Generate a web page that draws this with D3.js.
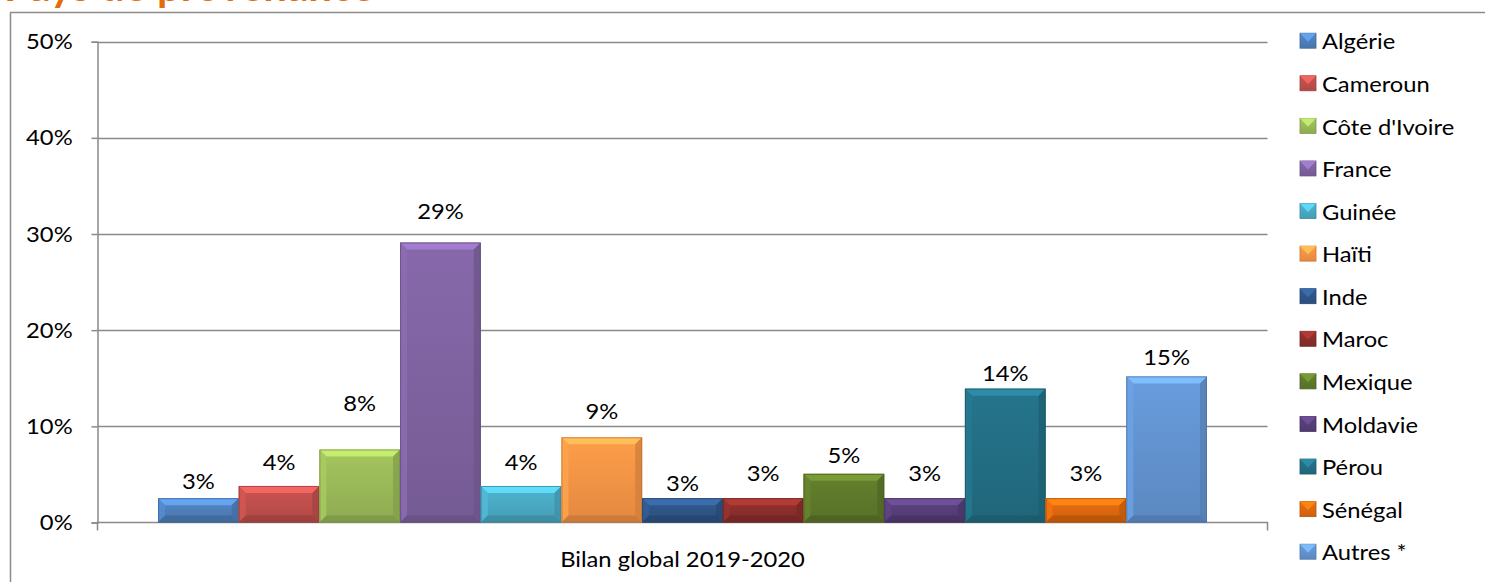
<!DOCTYPE html>
<html>
<head>
<meta charset="utf-8">
<script src="https://cdn.jsdelivr.net/npm/d3@7"></script>
<style>
  html, body { margin: 0; padding: 0; background: #fff; }
  svg { display: block; }
  text { font-family: "Lato", "Liberation Sans", sans-serif; fill: #000; }
</style>
</head>
<body>
<svg id="chart" width="1485" height="582"></svg>
<script>
// ---- Data ----
const title = "Pays de provenance";
const categories = ["Bilan global 2019-2020"];
const countries = ["Algérie", "Cameroun", "Côte d'Ivoire", "France", "Guinée", "Haïti",
                   "Inde", "Maroc", "Mexique", "Moldavie", "Pérou", "Sénégal", "Autres *"];
const values = [2.53, 3.80, 7.59, 29.11, 3.80, 8.86, 2.53, 2.53, 5.06, 2.53, 13.92, 2.53, 15.19]; // percent
const yTicks = [0, 10, 20, 30, 40, 50];
const colors = ["#4F81BD", "#C0504D", "#9BBB59", "#8064A2", "#4BACC6", "#F79646",
                "#2F5689", "#8C2F2C", "#5F7A2B", "#573F78", "#236F85", "#E0690E", "#6495D2"];
// manual label lifts above each bar top (px), as placed in the original
const labelLift = [18, 25, 47, 32, 25, 27, 16, 26, 19, 26, 16, 26, 20];

// ---- Layout ----
const FS = 22, SX = 1.08;        // font size and horizontal stretch of all texts
const svg = d3.select("#chart");
const defs = svg.append("defs");
const plot = { left: 97.5, right: 1267.5, top: 41.7, bottom: 522.5 };

// chart border (only top/left visible in the crop)
svg.append("path")
  .attr("d", `M10.5,600 L10.5,12.5 L1500,12.5`)
  .attr("fill", "none").attr("stroke", "#8c8c8c").attr("stroke-width", 1.5);

// title, cut off by the top edge
svg.append("text")
  .attr("x", 4).attr("y", 0.5)
  .attr("font-size", 42).attr("font-weight", "bold")
  .style("fill", "#E46C0A")
  .text(title);

const y = d3.scaleLinear().domain([0, 50]).range([plot.bottom, plot.top]);
const x0 = d3.scaleBand().domain(categories).range([plot.left, plot.right]).padding(0);
const x1 = d3.scaleBand().domain(countries).range([0, x0.bandwidth()])
  .paddingInner(0).paddingOuter(0.75);

// gridlines
svg.append("g").selectAll("line").data(yTicks.filter(d => d > 0)).join("line")
  .attr("x1", plot.left).attr("x2", plot.right)
  .attr("y1", d => Math.round(y(d)) + 0.5).attr("y2", d => Math.round(y(d)) + 0.5)
  .attr("stroke", "#8a8a8a").attr("stroke-width", 1.5);

// y axis
const yAxis = d3.axisLeft(y).tickValues(yTicks).tickSize(6).tickPadding(17)
  .tickFormat(d => d + "%");
const gy = svg.append("g").attr("transform", `translate(${plot.left},0)`).call(yAxis);
gy.select(".domain").attr("stroke", "#8a8a8a").attr("stroke-width", 1.5);
gy.selectAll(".tick line").attr("stroke", "#8a8a8a").attr("stroke-width", 1.5);
gy.selectAll(".tick text").attr("font-size", FS).attr("font-family", "Lato").style("fill", "#000")
  .attr("transform", `scale(${SX},1)`);

// x axis
const xAxis = d3.axisBottom(x0).tickSize(0).tickPadding(29);
const gx = svg.append("g").attr("transform", `translate(0,${plot.bottom})`).call(xAxis);
gx.select(".domain").attr("stroke", "#8a8a8a").attr("stroke-width", 1.5)
  .attr("d", `M${plot.left},8V0H${plot.right}V8`);
gx.selectAll(".tick text").attr("font-size", FS).attr("font-family", "Lato").style("fill", "#000")
  .attr("transform", `scale(${SX},1)`);

// gradients per color
colors.forEach((c, i) => {
  const g = defs.append("linearGradient").attr("id", "grad" + i)
    .attr("x1", 0).attr("y1", 0).attr("x2", 0).attr("y2", 1);
  g.append("stop").attr("offset", "0%").attr("stop-color", d3.color(c).brighter(0.15));
  g.append("stop").attr("offset", "100%").attr("stop-color", d3.color(c).darker(0.25));
});

// bars with bevel
const gBars = svg.append("g").attr("transform", `translate(${x0(categories[0])},0)`);
countries.forEach((name, i) => {
  const c = colors[i];
  const bx = x1(name), bw = x1.bandwidth();
  const top = y(values[i]), bot = y(0);
  const h = bot - top;
  const b = Math.min(7, h / 2.5);
  const g = gBars.append("g");
  g.append("rect").attr("x", bx).attr("y", top).attr("width", bw).attr("height", h)
    .attr("fill", `url(#grad${i})`);
  g.append("path").attr("d",
    `M${bx},${top} L${bx + bw},${top} L${bx + bw - b},${top + b} L${bx + b},${top + b} Z`)
    .attr("fill", d3.color(c).brighter(0.7)).attr("opacity", 0.95);
  g.append("path").attr("d",
    `M${bx},${top} L${bx + b},${top + b} L${bx + b},${bot - b} L${bx},${bot} Z`)
    .attr("fill", d3.color(c).brighter(0.25)).attr("opacity", 0.8);
  g.append("path").attr("d",
    `M${bx + bw},${top} L${bx + bw - b},${top + b} L${bx + bw - b},${bot - b} L${bx + bw},${bot} Z`)
    .attr("fill", d3.color(c).darker(0.45)).attr("opacity", 0.8);
  g.append("path").attr("d",
    `M${bx},${bot} L${bx + b},${bot - b} L${bx + bw - b},${bot - b} L${bx + bw},${bot} Z`)
    .attr("fill", d3.color(c).darker(0.6)).attr("opacity", 0.85);
  g.append("rect").attr("x", bx + 0.5).attr("y", top + 0.5).attr("width", bw - 1).attr("height", h - 1)
    .attr("fill", "none").attr("stroke", d3.color(c).darker(0.8)).attr("stroke-width", 1).attr("opacity", 0.7);
  // data label
  g.append("text")
    .attr("transform", `translate(${bx + bw / 2},${top - labelLift[i]}) scale(${SX},1)`)
    .attr("text-anchor", "middle").attr("dominant-baseline", "central")
    .attr("font-size", FS)
    .text(d3.format(".0%")(values[i] / 100));
});

// legend
const legY = d3.scalePoint().domain(countries).range([40.7, 551.7]);
const leg = svg.append("g");
countries.forEach((name, i) => {
  const c = colors[i];
  const cy = legY(name);
  const mx = 1300, ms = 15;
  const g = leg.append("g");
  g.append("rect").attr("x", mx).attr("y", cy - ms / 2).attr("width", ms + 1).attr("height", ms)
    .attr("fill", `url(#grad${i})`).attr("stroke", d3.color(c).darker(0.6)).attr("stroke-width", 0.8);
  g.append("path").attr("d",
    `M${mx},${cy - ms / 2} L${mx + ms + 1},${cy - ms / 2} L${mx + (ms + 1) / 2},${cy + 1} Z`)
    .attr("fill", d3.color(c).brighter(0.7)).attr("opacity", 0.9);
  g.append("text")
    .attr("transform", `translate(1322,${cy}) scale(${SX},1)`)
    .attr("dominant-baseline", "central").attr("font-size", FS)
    .text(name);
});
</script>
</body>
</html>
